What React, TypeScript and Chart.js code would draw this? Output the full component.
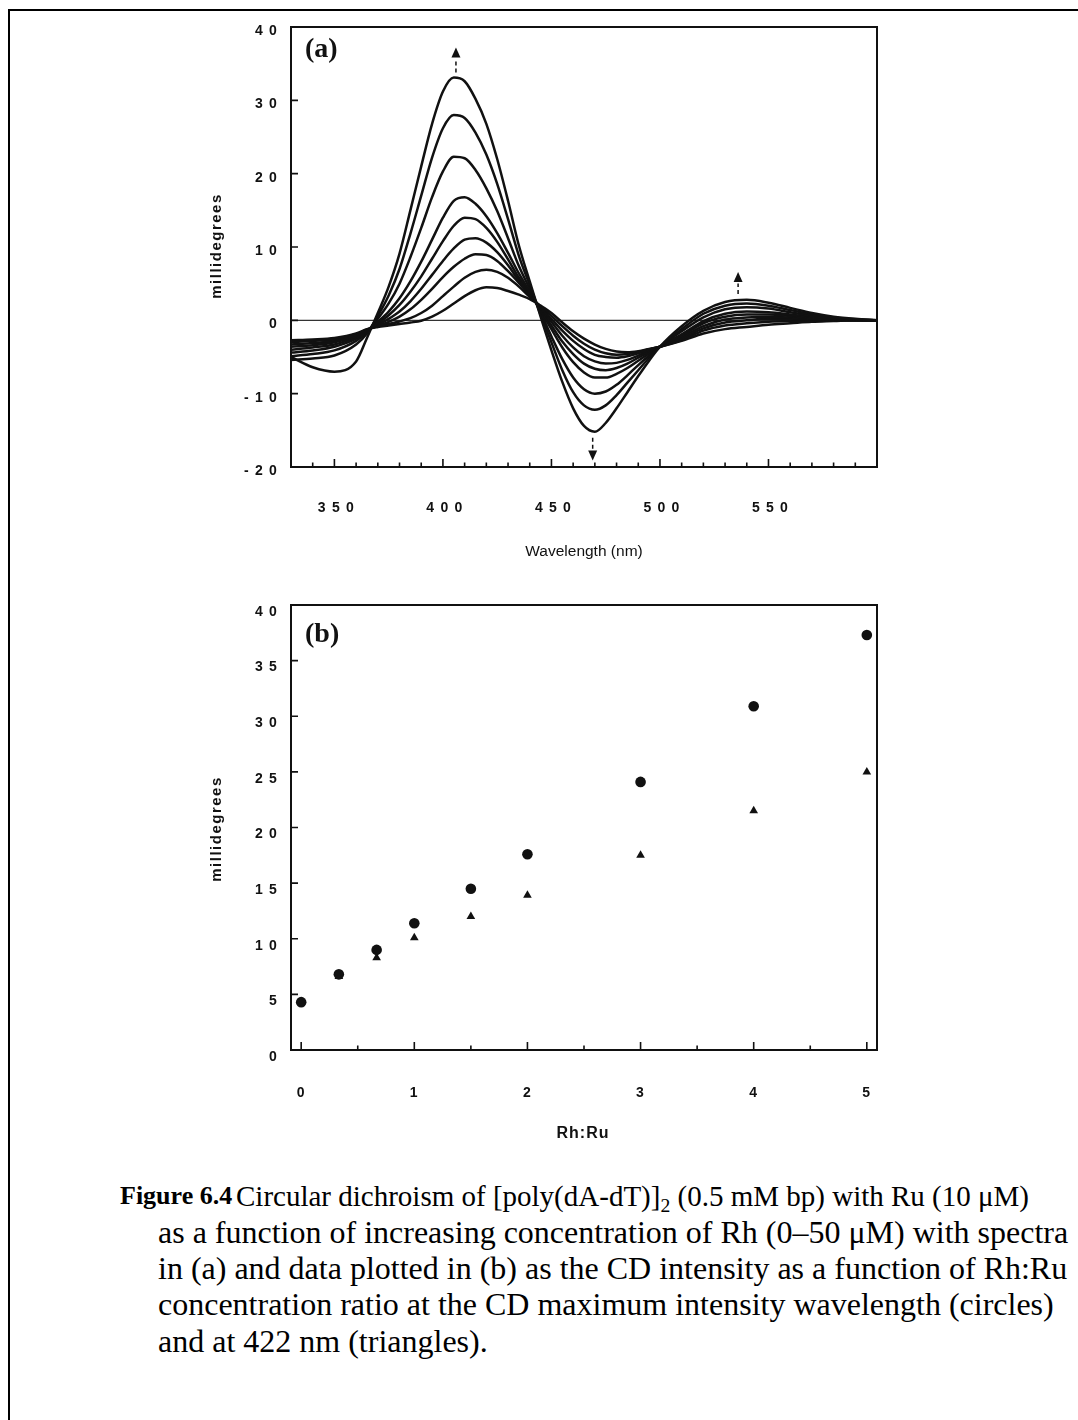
import React, { useEffect, useRef } from "react";
import { Chart, registerables } from "chart.js";

Chart.register(...registerables);

// ---------------- Panel (a): CD spectra ----------------
const wavelengths = [330, 340, 350, 360, 365, 370, 375, 380, 385, 390, 395, 400, 405, 410, 415, 420, 425, 430, 435, 440, 445, 450, 455, 460, 465, 470, 475, 480, 485, 490, 495, 500, 510, 520, 530, 540, 550, 560, 570, 580, 590, 600];

const cd1 = [-5.0, -6.4, -7.0, -5.6, -2.4, 1.0, 4.6, 9.1, 15.0, 21.0, 26.8, 31.2, 33.1, 32.6, 30.2, 26.8, 22.0, 16.3, 10.2, 5.3, 0.5, -4.1, -8.4, -12.0, -14.4, -15.2, -14.0, -12.0, -9.8, -7.6, -5.5, -3.6, -0.8, 1.3, 2.5, 2.8, 2.4, 1.7, 1.0, 0.5, 0.2, 0];
const cd2 = [-5.4, -5.2, -4.8, -3.3, -1.8, 0.6, 3.4, 7.0, 11.8, 17.0, 22.2, 26.2, 28.0, 27.6, 25.6, 22.6, 18.6, 13.8, 8.8, 4.8, 0.8, -3.0, -6.8, -9.8, -11.6, -12.2, -11.6, -10.2, -8.5, -6.8, -5.1, -3.6, -1.2, 0.9, 2.0, 2.3, 2.0, 1.4, 0.8, 0.4, 0.15, 0];
const cd3 = [-4.9, -4.6, -4.1, -2.8, -1.6, 0.2, 2.3, 5.0, 8.6, 12.6, 16.8, 20.3, 22.3, 22.1, 20.5, 18.0, 14.9, 11.2, 7.4, 4.3, 1.1, -2.2, -5.3, -7.8, -9.4, -10.0, -9.7, -8.8, -7.5, -6.1, -4.8, -3.6, -1.5, 0.4, 1.5, 1.8, 1.6, 1.1, 0.6, 0.3, 0.1, 0];
const cd4 = [-4.4, -4.1, -3.6, -2.5, -1.5, -0.2, 1.2, 3.0, 5.3, 8.0, 11.0, 14.0, 16.3, 16.8, 15.9, 14.2, 11.9, 9.2, 6.4, 3.9, 1.3, -1.2, -3.7, -5.7, -7.1, -7.8, -7.8, -7.3, -6.5, -5.5, -4.5, -3.6, -1.9, -0.1, 0.9, 1.2, 1.1, 0.8, 0.45, 0.2, 0.05, 0];
const cd5 = [-4.0, -3.7, -3.3, -2.3, -1.4, -0.4, 0.7, 2.1, 3.9, 6.0, 8.4, 10.8, 12.9, 14.0, 13.8, 12.6, 10.7, 8.3, 5.8, 3.7, 1.5, -0.7, -2.9, -4.6, -5.9, -6.6, -6.8, -6.5, -5.9, -5.1, -4.3, -3.6, -2.1, -0.4, 0.5, 0.8, 0.8, 0.6, 0.3, 0.1, 0, 0];
const cd6 = [-3.6, -3.4, -3.0, -2.1, -1.35, -0.6, 0.2, 1.2, 2.6, 4.3, 6.2, 8.1, 9.8, 11.0, 11.2, 10.6, 9.3, 7.5, 5.4, 3.5, 1.7, -0.2, -2.1, -3.7, -4.9, -5.6, -5.9, -5.8, -5.4, -4.8, -4.15, -3.6, -2.3, -0.8, 0.1, 0.4, 0.5, 0.4, 0.2, 0.05, 0, 0];
const cd7 = [-3.3, -3.1, -2.8, -2.0, -1.3, -0.7, -0.2, 0.5, 1.5, 2.8, 4.3, 5.9, 7.3, 8.4, 9.0, 8.9, 8.1, 6.7, 5.1, 3.4, 1.8, 0.2, -1.4, -2.8, -3.9, -4.7, -5.0, -5.1, -4.9, -4.5, -4.0, -3.6, -2.5, -1.1, -0.3, 0.0, 0.2, 0.2, 0.1, 0, 0, 0];
const cd8 = [-3.0, -2.8, -2.6, -1.9, -1.25, -0.8, -0.5, -0.15, 0.3, 1.0, 2.0, 3.3, 4.6, 5.8, 6.6, 6.9, 6.6, 5.8, 4.6, 3.2, 1.9, 0.6, -0.8, -2.1, -3.2, -4.0, -4.5, -4.7, -4.6, -4.3, -3.95, -3.6, -2.7, -1.4, -0.7, -0.4, -0.2, -0.1, -0.05, 0, 0, 0];
const cd9 = [-2.7, -2.6, -2.4, -1.8, -1.2, -0.9, -0.7, -0.5, -0.3, -0.05, 0.5, 1.3, 2.3, 3.3, 4.1, 4.5, 4.4, 4.0, 3.5, 2.9, 2.0, 1.0, -0.3, -1.5, -2.5, -3.3, -3.9, -4.25, -4.35, -4.2, -3.9, -3.6, -2.8, -1.8, -1.2, -0.9, -0.6, -0.4, -0.2, -0.1, 0, 0];

const spectra = [cd1, cd2, cd3, cd4, cd5, cd6, cd7, cd8, cd9];

const aXTicks = [350, 400, 450, 500, 550];
const aXMinorTicks = [340, 360, 370, 380, 390, 410, 420, 430, 440, 460, 470, 480, 490, 510, 520, 530, 540, 560, 570, 580, 590];
const aYTicks = [-20, -10, 0, 10, 20, 30, 40];
const zeroLineX = [330, 600];

// arrows: wavelength, tail value, tip value
const arrowX = [406, 536, 469];
const arrowTail = [33.8, 3.6, -16.0];
const arrowTip = [37.2, 6.6, -19.1];

// ---------------- Panel (b): CD intensity vs Rh:Ru ----------------
const ratios = [0, 0.333, 0.667, 1, 1.5, 2, 3, 4, 5];
const circleVals = [4.3, 6.8, 9.0, 11.4, 14.5, 17.6, 24.1, 30.9, 37.3];
const triangleVals = [4.3, 6.6, 8.3, 10.1, 12.0, 13.9, 17.5, 21.5, 25.0];

const bXTicks = [0, 1, 2, 3, 4, 5];
const bXMinorTicks = [0.5, 1.5, 2.5, 3.5, 4.5];
const bYTicks = [0, 5, 10, 15, 20, 25, 30, 35, 40];

// ---------------- helpers ----------------
const INK = "#111";
const tickFont = { family: '"Liberation Sans", Arial, Helvetica, sans-serif', size: 14, weight: "bold" as const };
const spaced = (v: number | string) => String(v).split("").join(" ");

type DecorCfg = {
  xMajor: number[];
  xMinor: number[];
  yMajor: number[];
  label: string;
  labelDx: number;
  labelDy: number;
  arrows?: { x: number[]; tail: number[]; tip: number[] };
};

function makeDecor(cfg: DecorCfg) {
  return {
    id: "decor",
    beforeDraw(chart: any) {
      chart.ctx.letterSpacing = "1.2px";
    },
    beforeDatasetsDraw(chart: any) {
      chart.ctx.letterSpacing = "0px";
    },
    afterDatasetsDraw(chart: any) {
      const { ctx, chartArea: a, scales } = chart;
      const xs = scales.x;
      const ys = scales.y;
      ctx.save();
      ctx.letterSpacing = "0px";
      ctx.strokeStyle = INK;
      ctx.fillStyle = INK;
      ctx.lineWidth = 2;
      ctx.strokeRect(a.left, a.top, a.right - a.left, a.bottom - a.top);
      ctx.lineWidth = 1.6;
      ctx.beginPath();
      for (const v of cfg.xMajor) {
        const px = xs.getPixelForValue(v);
        ctx.moveTo(px, a.bottom);
        ctx.lineTo(px, a.bottom - 8);
      }
      for (const v of cfg.xMinor) {
        const px = xs.getPixelForValue(v);
        ctx.moveTo(px, a.bottom);
        ctx.lineTo(px, a.bottom - 4.5);
      }
      for (const v of cfg.yMajor) {
        const py = ys.getPixelForValue(v);
        ctx.moveTo(a.left, py);
        ctx.lineTo(a.left + 7, py);
      }
      ctx.stroke();

      if (cfg.arrows) {
        const ar = cfg.arrows;
        for (let i = 0; i < ar.x.length; i++) {
          const px = xs.getPixelForValue(ar.x[i]);
          const tail = ys.getPixelForValue(ar.tail[i]);
          const tip = ys.getPixelForValue(ar.tip[i]);
          const dir = tip < tail ? -1 : 1;
          const headLen = 10;
          const base = tip - dir * headLen;
          ctx.lineWidth = 1.5;
          ctx.setLineDash([4, 3]);
          ctx.beginPath();
          ctx.moveTo(px, tail);
          ctx.lineTo(px, base - dir * 1.5);
          ctx.stroke();
          ctx.setLineDash([]);
          ctx.beginPath();
          ctx.moveTo(px, tip);
          ctx.lineTo(px - 4.5, base);
          ctx.lineTo(px + 4.5, base);
          ctx.closePath();
          ctx.fill();
        }
      }

      ctx.font = 'bold 28px "Liberation Serif", "Times New Roman", serif';
      ctx.textAlign = "left";
      ctx.textBaseline = "middle";
      ctx.fillText(cfg.label, a.left + cfg.labelDx, a.top + cfg.labelDy);
      ctx.restore();
    },
  };
}

const fitY = (w: number) => (s: any) => {
  s.width = w;
  s.paddingTop = 0;
  s.paddingBottom = 0;
};
const fitX = (h: number) => (s: any) => {
  s.height = h;
  s.paddingLeft = 0;
  s.paddingRight = 0;
};

function SpectraChart() {
  const ref = useRef<HTMLCanvasElement>(null);
  useEffect(() => {
    const datasets: any[] = spectra.map((vals) => ({
      data: wavelengths.map((w, i) => ({ x: w, y: vals[i] })),
      borderColor: INK,
      borderWidth: 2.5,
      pointRadius: 0,
      cubicInterpolationMode: "monotone",
      fill: false,
    }));
    datasets.push({
      data: zeroLineX.map((w) => ({ x: w, y: 0 })),
      borderColor: "#333",
      borderWidth: 1.1,
      pointRadius: 0,
      fill: false,
    });
    const chart = new Chart(ref.current as HTMLCanvasElement, {
      type: "line",
      data: { datasets },
      options: {
        responsive: false,
        animation: false,
        events: [],
        layout: { padding: { left: 0, top: 12, right: 23, bottom: 0 } },
        plugins: { legend: { display: false }, tooltip: { enabled: false } },
        scales: {
          x: {
            type: "linear",
            min: 330,
            max: 600,
            afterBuildTicks: (s: any) => {
              s.ticks = aXTicks.map((v) => ({ value: v }));
            },
            afterFit: fitX(118),
            grid: { display: false, drawTicks: false },
            border: { display: false },
            ticks: { font: tickFont, color: INK, padding: 33, labelOffset: 2, autoSkip: false, maxRotation: 0, callback: (v: any) => spaced(v) },
          },
          y: {
            type: "linear",
            min: -20,
            max: 40,
            afterBuildTicks: (s: any) => {
              s.ticks = aYTicks.map((v) => ({ value: v }));
            },
            afterFit: fitY(111),
            grid: { display: false, drawTicks: false },
            border: { display: false },
            ticks: { font: tickFont, color: INK, padding: 13, labelOffset: 4, autoSkip: false, callback: (v: any) => spaced(v) },
          },
        },
      } as any,
      plugins: [
        makeDecor({
          xMajor: aXTicks,
          xMinor: aXMinorTicks,
          yMajor: aYTicks,
          label: "(a)",
          labelDx: 14,
          labelDy: 23,
          arrows: { x: arrowX, tail: arrowTail, tip: arrowTip },
        }),
      ],
    });
    return () => chart.destroy();
  }, []);
  return <canvas ref={ref} width={720} height={570} style={{ position: "absolute", left: 172, top: 7, width: 720, height: 570 }} />;
}

function RatioChart() {
  const ref = useRef<HTMLCanvasElement>(null);
  useEffect(() => {
    const chart = new Chart(ref.current as HTMLCanvasElement, {
      type: "scatter",
      data: {
        datasets: [
          {
            data: ratios.map((r, i) => ({ x: r, y: circleVals[i] })),
            pointStyle: "circle",
            pointRadius: 5.3,
            backgroundColor: INK,
            borderColor: INK,
            borderWidth: 0,
          },
          {
            data: ratios.map((r, i) => ({ x: r, y: triangleVals[i] })),
            pointStyle: "triangle",
            pointRadius: 5,
            backgroundColor: INK,
            borderColor: INK,
            borderWidth: 0,
          },
        ],
      },
      options: {
        responsive: false,
        animation: false,
        events: [],
        layout: { padding: { left: 0, top: 15, right: 23, bottom: 0 } },
        plugins: { legend: { display: false }, tooltip: { enabled: false } },
        scales: {
          x: {
            type: "linear",
            min: -0.09,
            max: 5.09,
            afterBuildTicks: (s: any) => {
              s.ticks = bXTicks.map((v) => ({ value: v }));
            },
            afterFit: fitX(110),
            grid: { display: false, drawTicks: false },
            border: { display: false },
            ticks: { font: tickFont, color: INK, padding: 35, autoSkip: false, maxRotation: 0, callback: (v: any) => spaced(v) },
          },
          y: {
            type: "linear",
            min: 0,
            max: 40,
            afterBuildTicks: (s: any) => {
              s.ticks = bYTicks.map((v) => ({ value: v }));
            },
            afterFit: fitY(111),
            grid: { display: false, drawTicks: false },
            border: { display: false },
            ticks: { font: tickFont, color: INK, padding: 13, labelOffset: 7, autoSkip: false, callback: (v: any) => spaced(v) },
          },
        },
      } as any,
      plugins: [
        makeDecor({
          xMajor: bXTicks,
          xMinor: bXMinorTicks,
          yMajor: bYTicks,
          label: "(b)",
          labelDx: 14,
          labelDy: 30,
        }),
      ],
    });
    return () => chart.destroy();
  }, []);
  return <canvas ref={ref} width={720} height={570} style={{ position: "absolute", left: 172, top: 582, width: 720, height: 570 }} />;
}

const sans = '"Liberation Sans", Arial, Helvetica, sans-serif';
const serif = '"Liberation Serif", "Times New Roman", Times, serif';

function AxisTitle(props: { text: string; cx: number; cy: number; rotate?: boolean; bold?: boolean; size: number; spacing?: number }) {
  const { text, cx, cy, rotate, bold, size, spacing } = props;
  return (
    <div
      style={{
        position: "absolute",
        left: cx,
        top: cy,
        transform: `translate(-50%, -50%)${rotate ? " rotate(-90deg)" : ""}`,
        whiteSpace: "nowrap",
        fontFamily: sans,
        fontSize: size,
        fontWeight: bold ? 700 : 400,
        letterSpacing: spacing ? `${spacing}px` : undefined,
        lineHeight: 1,
        color: INK,
      }}
    >
      {text}
    </div>
  );
}

export default function App() {
  const capLine: React.CSSProperties = {
    position: "absolute",
    whiteSpace: "nowrap",
    fontFamily: serif,
    fontSize: 32,
    lineHeight: "36px",
    color: "#000",
  };
  return (
    <div style={{ position: "absolute", left: 8, top: 8, width: 1070, height: 1412, overflow: "hidden", background: "#fff" }}>
      <div style={{ position: "absolute", left: 0, top: 1, width: 1300, height: 1700, borderLeft: "2px solid #000", borderTop: "2px solid #000" }} />
      <SpectraChart />
      <RatioChart />
      <AxisTitle text="millidegrees" cx={207} cy={238} rotate bold size={15} spacing={1.5} />
      <AxisTitle text="Wavelength (nm)" cx={576} cy={543} size={15.5} />
      <AxisTitle text="millidegrees" cx={207} cy={821} rotate bold size={15} spacing={1.5} />
      <AxisTitle text="Rh:Ru" cx={575} cy={1125} bold size={16} spacing={1} />

      <div style={{ ...capLine, left: 112, top: 1170, fontSize: 26 }}>
        <b>Figure 6.4</b>
      </div>
      <div style={{ ...capLine, left: 228, top: 1170, fontSize: 29 }}>
        Circular dichroism of [poly(dA-dT)]
        <span style={{ fontSize: "0.68em", verticalAlign: "-0.3em", lineHeight: 0 }}>2</span> (0.5 mM bp) with Ru (10 μM)
      </div>
      <div style={{ ...capLine, left: 150, top: 1206 }}>as a function of increasing concentration of Rh (0–50 μM) with spectra</div>
      <div style={{ ...capLine, left: 150, top: 1242 }}>in (a) and data plotted in (b) as the CD intensity as a function of Rh:Ru</div>
      <div style={{ ...capLine, left: 150, top: 1278 }}>concentration ratio at the CD maximum intensity wavelength (circles)</div>
      <div style={{ ...capLine, left: 150, top: 1315 }}>and at 422 nm (triangles).</div>
    </div>
  );
}
